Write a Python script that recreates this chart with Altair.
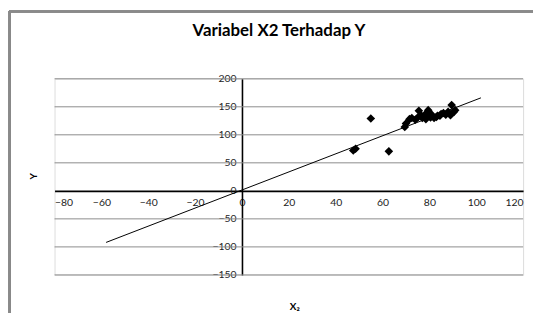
import altair as alt
import pandas as pd

# ---- data ----
x2_vals = [47.5, 48.5, 55.0, 62.7, 69.5, 70.0, 71.5, 72.5, 74.0, 75.0, 75.5, 76.5,
           77.0, 78.0, 78.5, 79.0, 79.5, 80.0, 80.5, 81.0, 82.0, 83.0, 83.5, 84.5,
           85.0, 86.0, 87.0, 88.0, 89.0, 89.5, 90.5, 91.0]
y_vals = [72, 75, 129, 70.5, 114, 120, 128, 130, 127, 131, 143, 135,
          130, 134, 128, 140, 144, 133, 131, 136, 130, 132, 134, 134,
          137, 139, 136, 141, 135, 153, 141, 144]
trend_x = [-58, 102]
trend_y = [-92, 166]
x_ticks = [-80, -60, -40, -20, 0, 20, 40, 60, 80, 100, 120]
y_ticks = [-150, -100, -50, 0, 50, 100, 150, 200]
grid_vals = [-150, -100, -50, 50, 100, 150, 200]

title_text = "Variabel X2 Terhadap Y"
x_title = "X₂"
y_title = "Y"

XDOM = [-80, 120]
YDOM = [-150, 200]
W, H = 473, 198
FONT = "Lato"

# offsets so that axes cross at the origin
x0_px = W * (0 - XDOM[0]) / (XDOM[1] - XDOM[0])
y0_px = H * (YDOM[1] - 0) / (YDOM[1] - YDOM[0])

pts = pd.DataFrame({"x": x2_vals, "y": y_vals})
trend = pd.DataFrame({"x": trend_x, "y": trend_y})
grid = pd.DataFrame({"g": grid_vals})

xscale = alt.Scale(domain=XDOM, nice=False, zero=False)
yscale = alt.Scale(domain=YDOM, nice=False, zero=False)

xaxis = alt.Axis(values=x_ticks, grid=False, ticks=False, offset=-(H - y0_px),
                 domainColor="black", domainWidth=1.6, labelPadding=7,
                 labelFont=FONT, labelFontSize=10.5, labelColor="#222",
                 title=x_title, titleFont=FONT, titleFontSize=10, titleFontWeight="bold",
                 titleX=242, titleY=120, titleBaseline="alphabetic", titleAlign="center")
yaxis = alt.Axis(values=y_ticks, grid=False, ticks=False, offset=-x0_px,
                 domainColor="black", domainWidth=1.6, labelPadding=6,
                 labelFont=FONT, labelFontSize=10.5, labelColor="#222",
                 title=y_title, titleFont=FONT, titleFontSize=10, titleFontWeight="bold",
                 titleX=-(245 - 35), titleY=98, titleAngle=-90,
                 titleBaseline="middle", titleAlign="center")

gridlines = alt.Chart(grid).mark_rule(color="#8c8c8c", strokeWidth=1).encode(
    y=alt.Y("g:Q", scale=yscale, axis=yaxis)
)

line = alt.Chart(trend).mark_line(color="black", strokeWidth=1).encode(
    x=alt.X("x:Q", scale=xscale, axis=xaxis),
    y=alt.Y("y:Q", scale=yscale, axis=yaxis),
)

points = alt.Chart(pts).mark_point(shape="diamond", filled=True, color="black",
                                   size=75, opacity=1).encode(
    x=alt.X("x:Q", scale=xscale, axis=xaxis),
    y=alt.Y("y:Q", scale=yscale, axis=yaxis),
)

border_left = alt.Chart(pts).mark_rule(color="#8a8a8a", strokeWidth=1.5).encode(
    x=alt.value(-45.5), y=alt.value(-68), y2=alt.value(240)
)
border_top = alt.Chart(pts).mark_rule(color="#8a8a8a", strokeWidth=1.5).encode(
    x=alt.value(-45.5), x2=alt.value(500), y=alt.value(-68)
)

chart = alt.layer(gridlines, line, points, border_left, border_top).properties(
    width=W, height=H,
    title=alt.TitleParams(title_text, font=FONT, fontSize=17, fontWeight="bold",
                          color="black", anchor="middle", frame="group",
                          dx=-10, offset=-30),
    autosize=alt.AutoSizeParams(type="none"),
    padding={"left": 47, "top": 70, "right": 10, "bottom": 37},
).configure_view(stroke=None).configure(background="white")

chart.save("out.html", embed_options={"renderer": "svg", "actions": False})
